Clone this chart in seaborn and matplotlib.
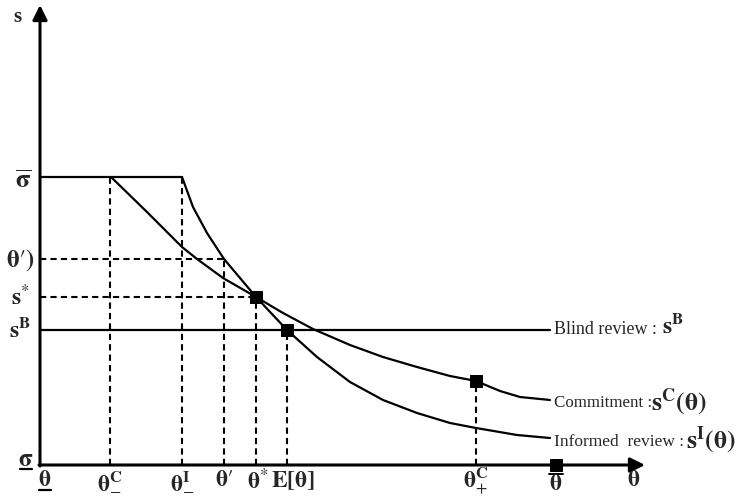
import matplotlib
matplotlib.use("Agg")
import matplotlib.pyplot as plt
import pandas as pd
import seaborn as sns

sns.set_theme(style="white")
plt.rcParams["font.family"] = ["Liberation Serif", "DejaVu Serif"]
plt.rcParams["mathtext.fontset"] = "stix"

# levels on the s axis (schematic units)
sigma_lo = 0
s_cp = 84
s_blind = 135
s_star = 168
s_theta_p = 206
sigma_hi = 288

# types on the theta axis
theta_lo = 0
theta_cm = 70
theta_im = 142
theta_p = 184
theta_star = 216
theta_mean = 247
theta_cp = 436
theta_hi = 516
curve_end = 510

# curves
commit_x = [71, 107, 142, 157, 183, 216, 243, 273, 310, 343, 377, 410, 436, 460, 480, 510]
commit_y = [288, 253, 218, 206, 187, 168, 152, 136, 120, 108, 98, 89, 84, 74, 68, 65]
inform_x = [142, 153, 167, 184, 200, 216, 247, 277, 310, 343, 377, 410, 436, 477, 510]
inform_y = [288, 258, 232, 206, 187, 168, 135, 108, 83, 65, 52, 42, 37, 30, 27]

cap = pd.DataFrame({"theta": [theta_lo, theta_im], "s": [sigma_hi, sigma_hi]})
commit = pd.DataFrame({"theta": commit_x, "s": commit_y})
inform = pd.DataFrame({"theta": inform_x, "s": inform_y})
blind = pd.DataFrame({"theta": [theta_lo, curve_end], "s": [s_blind, s_blind]})
points = pd.DataFrame({"theta": [theta_star, theta_mean, theta_cp, theta_hi],
                       "s": [s_star, s_blind, s_cp, sigma_lo]})

fig = plt.figure(figsize=(7.43, 5.0), dpi=100)
ax = fig.add_axes([0, 0, 1, 1])
ax.set_xlim(-40, 703)
ax.set_ylim(-35, 465)
ax.axis("off")

lw = 1.6
for df in [cap, commit, inform, blind]:
    sns.lineplot(data=df, x="theta", y="s", sort=False, color="black", lw=lw, ax=ax)
sns.scatterplot(data=points, x="theta", y="s", marker="s", s=80, color="black",
                edgecolor="black", zorder=5, ax=ax)

# dashed guides
dash = dict(color="black", lw=1.5, ls=(0, (3, 2)))
for xv, yv in [(theta_cm, sigma_hi), (theta_im, sigma_hi), (theta_p, s_theta_p),
               (theta_star, s_star), (theta_mean, s_blind), (theta_cp, s_cp)]:
    ax.plot([xv, xv], [0, yv], **dash)
ax.plot([0, theta_p], [s_theta_p, s_theta_p], **dash)
ax.plot([0, theta_star], [s_star, s_star], **dash)

# axes with arrows
arr = dict(arrowstyle="-|>", lw=2.2, color="black", mutation_scale=22, shrinkA=0, shrinkB=0)
ax.annotate("", xy=(0, 460), xytext=(0, -1), arrowprops=arr)
ax.annotate("", xy=(605, 0), xytext=(-1, 0), arrowprops=arr)

# y-axis labels
ax.text(-23, 448, "s", fontsize=15, fontweight="bold", ha="center", va="center")
ax.text(-17, 284, r"$\overline{\mathbf{\sigma}}$", fontsize=19, ha="center", va="center")
ax.text(-20, 205, r"$\mathbf{\theta}\prime\mathbf{)}$", fontsize=18, ha="center", va="center")
ax.text(-20, 168, r"$\mathbf{s}^{*}$", fontsize=17, ha="center", va="center")
ax.text(-20, 135, r"$\mathbf{s}^{\mathbf{B}}$", fontsize=17, ha="center", va="center")
ax.text(-14, 5, r"$\mathbf{\sigma}$", fontsize=18, ha="center", va="center")
ax.plot([-20, -8], [-4, -4], color="black", lw=1.6)

# x-axis labels
xy_lab = -16
ax.text(5, xy_lab, r"$\mathbf{\theta}$", fontsize=17, ha="center", va="center")
ax.plot([-1, 11], [-25, -25], color="black", lw=1.6)
ax.text(theta_cm, xy_lab, r"$\mathbf{\theta}^{\mathbf{C}}_{-}$", fontsize=17, ha="center", va="center")
ax.text(theta_im, xy_lab, r"$\mathbf{\theta}^{\mathbf{I}}_{-}$", fontsize=17, ha="center", va="center")
ax.text(theta_p, xy_lab, r"$\mathbf{\theta}\prime$", fontsize=17, ha="center", va="center")
ax.text(theta_star + 2, xy_lab, r"$\mathbf{\theta}^{*}$", fontsize=17, ha="center", va="center")
ax.text(theta_mean + 6, xy_lab, r"$\mathbf{E[\theta]}$", fontsize=17, ha="center", va="center")
ax.text(theta_cp, xy_lab, r"$\mathbf{\theta}^{\mathbf{C}}_{+}$", fontsize=17, ha="center", va="center")
ax.text(theta_hi, xy_lab - 4, r"$\mathbf{\theta}$", fontsize=17, ha="center", va="center")
ax.plot([theta_hi - 7, theta_hi + 7], [-9, -9], color="black", lw=1.4)
ax.text(594, xy_lab, r"$\mathbf{\theta}$", fontsize=17, ha="center", va="center")

# curve labels
ax.text(514, s_blind, "Blind review :", fontsize=13, ha="left", va="center")
ax.text(622, s_blind + 4, r"$\mathbf{s}^{\mathbf{B}}$", fontsize=17, ha="left", va="center")
ax.text(514, 62, "Commitment :", fontsize=12.2, ha="left", va="center")
ax.text(611, 63, r"$\mathbf{s}^{\mathbf{C}}\mathbf{(\theta)}$", fontsize=18.5, ha="left", va="center")
ax.text(514, 23, "Informed  review :", fontsize=12.5, ha="left", va="center")
ax.text(646, 25, r"$\mathbf{s}^{\mathbf{I}}\mathbf{(\theta)}$", fontsize=18.5, ha="left", va="center")

fig.savefig("out.png", dpi=100)
